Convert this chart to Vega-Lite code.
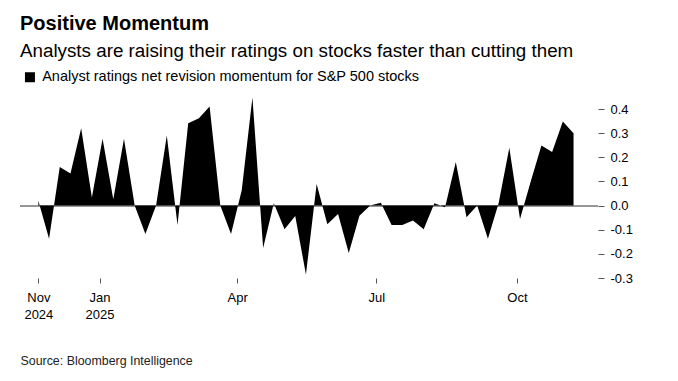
{
  "$schema": "https://vega.github.io/schema/vega-lite/v6.json",
  "width": 578,
  "height": 181,
  "autosize": {"type": "none"},
  "padding": {"left": 20, "top": 97, "right": 80, "bottom": 103},
  "background": "white",
  "config": {"view": {"stroke": null}, "font": "Liberation Sans"},
  "title": {
    "text": "Positive Momentum",
    "subtitle": "Analysts are raising their ratings on stocks faster than cutting them",
    "anchor": "start",
    "frame": "group",
    "font": "Liberation Sans",
    "fontSize": 20,
    "fontWeight": "bold",
    "color": "#000000",
    "subtitleFont": "Liberation Sans",
    "subtitleFontSize": 18.8,
    "subtitleColor": "#000000",
    "subtitlePadding": 8,
    "offset": 9
  },
  "data": {
    "values": [
      {"date": "2024-11-22", "value": 0.02},
      {"date": "2024-11-29", "value": -0.137},
      {"date": "2024-12-06", "value": 0.16},
      {"date": "2024-12-13", "value": 0.133},
      {"date": "2024-12-20", "value": 0.32},
      {"date": "2024-12-27", "value": 0.034},
      {"date": "2025-01-03", "value": 0.277},
      {"date": "2025-01-10", "value": 0.026},
      {"date": "2025-01-17", "value": 0.277},
      {"date": "2025-01-24", "value": 0.0},
      {"date": "2025-01-31", "value": -0.118},
      {"date": "2025-02-07", "value": 0.0},
      {"date": "2025-02-14", "value": 0.29},
      {"date": "2025-02-21", "value": -0.08},
      {"date": "2025-02-28", "value": 0.341},
      {"date": "2025-03-07", "value": 0.362},
      {"date": "2025-03-14", "value": 0.411},
      {"date": "2025-03-21", "value": 0.0},
      {"date": "2025-03-28", "value": -0.118},
      {"date": "2025-04-04", "value": 0.064},
      {"date": "2025-04-11", "value": 0.448},
      {"date": "2025-04-18", "value": -0.176},
      {"date": "2025-04-25", "value": 0.01},
      {"date": "2025-05-02", "value": -0.098},
      {"date": "2025-05-09", "value": -0.043},
      {"date": "2025-05-16", "value": -0.286},
      {"date": "2025-05-23", "value": 0.089},
      {"date": "2025-05-30", "value": -0.077},
      {"date": "2025-06-06", "value": -0.035},
      {"date": "2025-06-13", "value": -0.196},
      {"date": "2025-06-20", "value": -0.042},
      {"date": "2025-06-27", "value": 0.0},
      {"date": "2025-07-04", "value": 0.012},
      {"date": "2025-07-11", "value": -0.08},
      {"date": "2025-07-18", "value": -0.08},
      {"date": "2025-07-25", "value": -0.062},
      {"date": "2025-08-01", "value": -0.098},
      {"date": "2025-08-08", "value": 0.01},
      {"date": "2025-08-15", "value": -0.007},
      {"date": "2025-08-22", "value": 0.181},
      {"date": "2025-08-29", "value": -0.048},
      {"date": "2025-09-05", "value": 0.0},
      {"date": "2025-09-12", "value": -0.137},
      {"date": "2025-09-19", "value": 0.01},
      {"date": "2025-09-26", "value": 0.24},
      {"date": "2025-10-03", "value": -0.056},
      {"date": "2025-10-10", "value": 0.1},
      {"date": "2025-10-17", "value": 0.249},
      {"date": "2025-10-24", "value": 0.222},
      {"date": "2025-10-31", "value": 0.348},
      {"date": "2025-11-07", "value": 0.3}
    ]
  },
  "layer": [
    {
      "mark": {"type": "rule", "color": "#999999", "strokeWidth": 1},
      "encoding": {"y": {"datum": 0, "type": "quantitative"}}
    },
    {
      "mark": {"type": "area", "interpolate": "linear", "opacity": 1},
      "encoding": {
        "x": {
          "field": "date",
          "type": "temporal",
          "scale": {
            "type": "utc",
            "domain": [
              {"year": 2024, "month": 11, "date": 10, "utc": true},
              {"year": 2025, "month": 11, "date": 23, "utc": true}
            ]
          },
          "axis": {
            "title": "Source: Bloomberg Intelligence",
            "values": [
              {"year": 2024, "month": 11, "date": 22, "utc": true},
              {"year": 2025, "month": 1, "date": 1, "utc": true},
              {"year": 2025, "month": 4, "date": 1, "utc": true},
              {"year": 2025, "month": 7, "date": 1, "utc": true},
              {"year": 2025, "month": 10, "date": 1, "utc": true}
            ],
            "tickCount": 20,
            "labelExpr": "utcmonth(datum.value) < 2 || utcmonth(datum.value) > 9 ? [utcFormat(datum.value, '%b'), utcFormat(datum.value, '%Y')] : utcFormat(datum.value, '%b')",
            "domain": false,
            "grid": false,
            "ticks": true,
            "tickSize": 5,
            "tickColor": "#555555",
            "labelFont": "Liberation Sans",
            "labelFontSize": 13,
            "labelColor": "#000000",
            "labelPadding": 8,
            "labelLineHeight": 17,
            "labelFlush": false,
            "labelOverlap": false,
            "titleFont": "Liberation Sans",
            "titleFontSize": 12.4,
            "titleFontWeight": "normal",
            "titleColor": "#222222",
            "titleAnchor": "start",
            "titleAlign": "left",
            "titleBaseline": "alphabetic",
            "titleX": 0,
            "titleY": 86
          }
        },
        "y": {
          "field": "value",
          "type": "quantitative",
          "scale": {"domain": [-0.3, 0.45], "nice": false, "zero": false},
          "axis": {
            "orient": "right",
            "title": null,
            "values": [-0.3, -0.2, -0.1, 0, 0.1, 0.2, 0.3, 0.4],
            "tickCount": 20,
            "labelExpr": "replace(format(datum.value, '.1f'), '\u2212', '-')",
            "domain": false,
            "grid": false,
            "tickSize": 6,
            "tickColor": "#555555",
            "labelPadding": 6,
            "labelFont": "Liberation Sans",
            "labelFontSize": 13,
            "labelColor": "#000000",
            "labelFlush": false,
            "labelOverlap": false
          }
        },
        "color": {
          "datum": "Analyst ratings net revision momentum for S&P 500 stocks",
          "type": "nominal",
          "scale": {"range": ["#000000"]},
          "legend": {
            "title": null,
            "orient": "none",
            "legendX": 2.7,
            "legendY": -27,
            "padding": 0,
            "symbolType": "square",
            "symbolSize": 100,
            "symbolStrokeWidth": 0,
            "labelFont": "Liberation Sans",
            "labelFontSize": 14.5,
            "labelColor": "#000000",
            "labelOffset": 5,
            "labelLimit": 0
          }
        }
      }
    }
  ]
}
